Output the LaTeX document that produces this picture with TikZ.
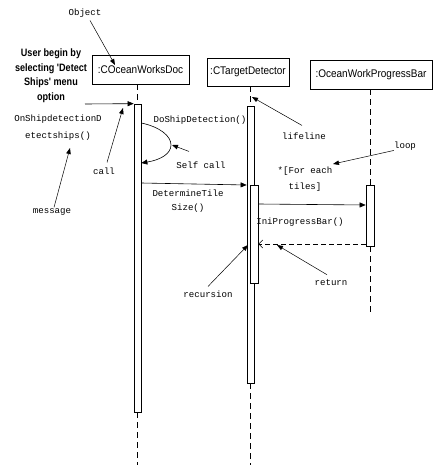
\documentclass[tikz,border=0pt]{standalone}
\usepackage{fontspec}
\usetikzlibrary{arrows.meta}
\newfontfamily\monolabel{Liberation Mono}
\newfontfamily\boxlabel[FakeStretch=0.9]{Liberation Sans}
\newfontfamily\userlabel[FakeStretch=0.85]{Liberation Sans}
\newcommand{\objbox}[6]{ \node[objbox, minimum width=#4pt, minimum height=#5pt] (#1) at ( #2 , #3 ) {#6};}
\newcommand{\actbar}[5]{ \node[actbar, minimum width=#4pt, minimum height=#5pt] (#1) at ( #2 , #3 ) {};}
\newcommand{\notelabel}[4]{ \node[notelabel] (#1) at ( #2 , #3 ) {#4};}
\tikzset{
  objbox/.style={draw, line width=0.7pt, inner sep=0pt, font=\boxlabel\fontsize{11.1}{13}\selectfont},
  actbar/.style={draw, fill=white, line width=0.7pt, inner sep=0pt},
  notelabel/.style={inner sep=0pt, align=center, font=\monolabel\fontsize{9.1}{14}\selectfont},
  userlabel/.style={inner sep=0pt, align=center, font=\userlabel\bfseries\fontsize{10.7}{14.5}\selectfont},
  lifeline/.style={line width=0.6pt, dash pattern=on 6pt off 4pt},
  msg/.style={line width=0.6pt, -{Triangle[length=6pt,width=5pt]}},
  retmsg/.style={line width=0.6pt, dash pattern=on 5pt off 3pt, -{Straight Barb[length=4pt,width=8pt]}},
  pointer/.style={line width=0.5pt, -{Triangle[length=6pt,width=4.5pt]}}
}
\begin{document}
\begin{tikzpicture}[x=1pt,y=-1pt]
        \useasboundingbox (0,0) rectangle (437,465);

        % objects
        \objbox{doc}{140.5}{69.5}{97}{29}{:COceanWorksDoc}
        \objbox{tgt}{248}{72}{82}{28}{:CTargetDetector}
        \objbox{pbar}{371}{74.5}{122}{29}{:OceanWorkProgressBar}

        % activations
        \actbar{docbar}{137.5}{258}{7}{308}
        \actbar{tgtbar}{250.5}{244.5}{7}{277}
        \actbar{recbar}{254}{234}{8}{98}
        \actbar{pbbar}{370}{215.5}{8}{61}

        % lifelines
        \coordinate (docend) at (137.5,465);
        \coordinate (tgtend) at (250.5,465);
        \coordinate (pbend) at (370,313);
        \draw[lifeline] (docbar.north |- doc.south) -- (docbar.north);
        \draw[lifeline] (docbar.south) -- (docend);
        \draw[lifeline] (tgtbar.north |- tgt.south) -- (tgtbar.north);
        \draw[lifeline] (tgtbar.south) -- (tgtend);
        \draw[lifeline] (pbbar.north |- pbar.south) -- (pbbar.north);
        \draw[lifeline] (pbbar.south) -- (pbend);

        % messages
        \coordinate (userstart) at (85,104);
        \draw[msg] (userstart) -- (docbar.north west);
        \draw[msg] (docbar.east |- 0,123) .. controls (160,127) and (171,136) .. (171,145)
              .. controls (171,154) and (160,160) .. (docbar.east |- 0,163);
        \draw[msg] (docbar.east |- 0,183) -- (tgtbar.west |- 0,185);
        \draw[msg] (recbar.east |- 0,204) -- (pbbar.west |- 0,205);
        \draw[retmsg] (pbbar.west |- 0,244) -- (recbar.east |- 0,244);

        \notelabel{osd}{58}{128}{OnShipdetectionD\\[3pt]etectships()}
        \notelabel{dsd}{200}{120}{DoShipDetection()}
        \notelabel{dts}{188}{201}{DetermineTile\\Size()}
        \notelabel{ipb}{300}{222}{IniProgressBar()}
        \notelabel{forloop}{305}{179}{*[For each\\[2pt]tiles]}

        % notes
        \node[userlabel] (usernote) at (51,75.5) {User begin by\\selecting 'Detect\\Ships' menu\\option};
        \notelabel{objnote}{85}{13}{Object}
        \notelabel{msgnote}{52}{212}{message}
        \notelabel{callnote}{104}{171}{call}
        \notelabel{selfnote}{201}{165}{Self call}
        \notelabel{lifenote}{304}{136}{lifeline}
        \notelabel{loopnote}{405}{146}{loop}
        \notelabel{recnote}{208}{294}{recursion}
        \notelabel{retnote}{331}{283}{return}

        \coordinate (objtip) at (115,65);
        \coordinate (msgtip) at (70,148);
        \coordinate (calltip) at (123,108);
        \coordinate (selftip) at (172,145);
        \coordinate (lifetip) at (252,97);
        \coordinate (looptip) at (333,164);
        \coordinate (rectip) at (248,245);
        \coordinate (rettip) at (277,245);

        \draw[pointer] (objnote.south) ++(5,3) -- (objtip);
        \draw[pointer] (msgnote.north) ++(2,-1) -- (msgtip);
        \draw[pointer] (callnote.north) ++(3,-5) -- (calltip);
        \draw[pointer] (selfnote.north) ++(-12,-10) -- (selftip);
        \draw[pointer] (lifenote.north) ++(-2,-7) -- (lifetip);
        \draw[pointer] (loopnote.south west) -- (looptip);
        \draw[pointer] (recnote.north) ++(0,-4) -- (rectip);
        \draw[pointer] (retnote.north) ++(-4,-5) -- (rettip);

    \end{tikzpicture}
\end{document}
